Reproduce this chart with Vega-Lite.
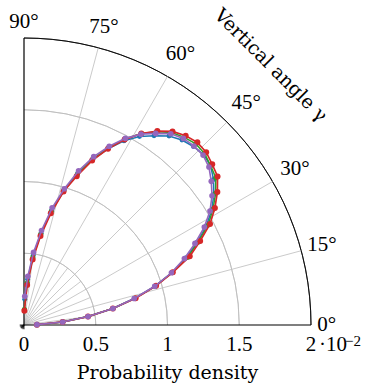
{
  "$schema": "https://vega.github.io/schema/vega-lite/v6.json",
  "width": 287,
  "height": 287,
  "autosize": "none",
  "padding": {"left": 24, "top": 38, "right": 62, "bottom": 62},
  "background": "white",
  "config": {"view": {"stroke": null}, "font": "DejaVu Serif", "axis": {"disable": true}},
  "datasets": {
    "curves": [
      {"s":"b","a":1.5,"d":0.09},{"s":"b","a":4.5,"d":0.27},{"s":"b","a":7.5,"d":0.45},{"s":"b","a":10.5,"d":0.63},{"s":"b","a":13.5,"d":0.79},{"s":"b","a":16.5,"d":0.95},{"s":"b","a":19.5,"d":1.095},{"s":"b","a":22.5,"d":1.22},{"s":"b","a":25.5,"d":1.335},{"s":"b","a":28.5,"d":1.445},{"s":"b","a":31.5,"d":1.535},{"s":"b","a":34.5,"d":1.605},{"s":"b","a":37.5,"d":1.665},{"s":"b","a":40.5,"d":1.71},{"s":"b","a":43.5,"d":1.725},{"s":"b","a":46.5,"d":1.715},{"s":"b","a":49.5,"d":1.695},{"s":"b","a":52.5,"d":1.66},{"s":"b","a":55.5,"d":1.6},{"s":"b","a":58.5,"d":1.54},{"s":"b","a":61.5,"d":1.46},{"s":"b","a":64.5,"d":1.36},{"s":"b","a":67.5,"d":1.25},{"s":"b","a":70.5,"d":1.12},{"s":"b","a":73.5,"d":0.97},{"s":"b","a":76.5,"d":0.82},{"s":"b","a":79.5,"d":0.65},{"s":"b","a":82.5,"d":0.49},{"s":"b","a":85.5,"d":0.32},{"s":"b","a":88.5,"d":0.18},
      {"s":"g","a":1.5,"d":0.09},{"s":"g","a":4.5,"d":0.27},{"s":"g","a":7.5,"d":0.45},{"s":"g","a":10.5,"d":0.63},{"s":"g","a":13.5,"d":0.795},{"s":"g","a":16.5,"d":0.955},{"s":"g","a":19.5,"d":1.095},{"s":"g","a":22.5,"d":1.235},{"s":"g","a":25.5,"d":1.345},{"s":"g","a":28.5,"d":1.46},{"s":"g","a":31.5,"d":1.545},{"s":"g","a":34.5,"d":1.62},{"s":"g","a":37.5,"d":1.685},{"s":"g","a":40.5,"d":1.71},{"s":"g","a":43.5,"d":1.735},{"s":"g","a":46.5,"d":1.74},{"s":"g","a":49.5,"d":1.72},{"s":"g","a":52.5,"d":1.69},{"s":"g","a":55.5,"d":1.635},{"s":"g","a":58.5,"d":1.565},{"s":"g","a":61.5,"d":1.475},{"s":"g","a":64.5,"d":1.37},{"s":"g","a":67.5,"d":1.25},{"s":"g","a":70.5,"d":1.115},{"s":"g","a":73.5,"d":0.98},{"s":"g","a":76.5,"d":0.815},{"s":"g","a":79.5,"d":0.645},{"s":"g","a":82.5,"d":0.475},{"s":"g","a":85.5,"d":0.295},{"s":"g","a":88.5,"d":0.11},
      {"s":"r","a":1.5,"d":0.09},{"s":"r","a":4.5,"d":0.27},{"s":"r","a":7.5,"d":0.45},{"s":"r","a":10.5,"d":0.63},{"s":"r","a":13.5,"d":0.8},{"s":"r","a":16.5,"d":0.96},{"s":"r","a":19.5,"d":1.1},{"s":"r","a":22.5,"d":1.25},{"s":"r","a":25.5,"d":1.36},{"s":"r","a":28.5,"d":1.475},{"s":"r","a":31.5,"d":1.56},{"s":"r","a":34.5,"d":1.635},{"s":"r","a":37.5,"d":1.7},{"s":"r","a":40.5,"d":1.725},{"s":"r","a":43.5,"d":1.75},{"s":"r","a":46.5,"d":1.755},{"s":"r","a":49.5,"d":1.735},{"s":"r","a":52.5,"d":1.7},{"s":"r","a":55.5,"d":1.64},{"s":"r","a":58.5,"d":1.565},{"s":"r","a":61.5,"d":1.47},{"s":"r","a":64.5,"d":1.36},{"s":"r","a":67.5,"d":1.24},{"s":"r","a":70.5,"d":1.1},{"s":"r","a":73.5,"d":0.97},{"s":"r","a":76.5,"d":0.8},{"s":"r","a":79.5,"d":0.63},{"s":"r","a":82.5,"d":0.46},{"s":"r","a":85.5,"d":0.28},{"s":"r","a":88.5,"d":0.1},
      {"s":"p","a":1.5,"d":0.09},{"s":"p","a":4.5,"d":0.27},{"s":"p","a":7.5,"d":0.45},{"s":"p","a":10.5,"d":0.63},{"s":"p","a":13.5,"d":0.79},{"s":"p","a":16.5,"d":0.95},{"s":"p","a":19.5,"d":1.09},{"s":"p","a":22.5,"d":1.21},{"s":"p","a":25.5,"d":1.32},{"s":"p","a":28.5,"d":1.43},{"s":"p","a":31.5,"d":1.52},{"s":"p","a":34.5,"d":1.59},{"s":"p","a":37.5,"d":1.645},{"s":"p","a":40.5,"d":1.695},{"s":"p","a":43.5,"d":1.72},{"s":"p","a":46.5,"d":1.72},{"s":"p","a":49.5,"d":1.71},{"s":"p","a":52.5,"d":1.68},{"s":"p","a":55.5,"d":1.62},{"s":"p","a":58.5,"d":1.56},{"s":"p","a":61.5,"d":1.48},{"s":"p","a":64.5,"d":1.38},{"s":"p","a":67.5,"d":1.27},{"s":"p","a":70.5,"d":1.14},{"s":"p","a":73.5,"d":0.99},{"s":"p","a":76.5,"d":0.84},{"s":"p","a":79.5,"d":0.67},{"s":"p","a":82.5,"d":0.51},{"s":"p","a":85.5,"d":0.34},{"s":"p","a":88.5,"d":0.2}
    ],
    "rings": [
      {"r":0.5,"kind":"grid"},{"r":1,"kind":"grid"},{"r":1.5,"kind":"grid"},{"r":2,"kind":"outer"}
    ],
    "spokes": [
      {"a":15,"r":2},{"a":30,"r":2},{"a":45,"r":2},{"a":60,"r":2},{"a":75,"r":2},
      {"a":7.5,"r":0.5},{"a":22.5,"r":0.5},{"a":37.5,"r":0.5},{"a":52.5,"r":0.5},{"a":67.5,"r":0.5},{"a":82.5,"r":0.5}
    ],
    "axisLines": [
      {"a":0,"r":2},{"a":90,"r":2}
    ],
    "fan": [
      {"a":0},{"a":15},{"a":30},{"a":45},{"a":60},{"a":75},{"a":90}
    ],
    "ticks": [
      {"v":0},{"v":0.5},{"v":1},{"v":1.5},{"v":2}
    ],
    "angleLabels": [
      {"a":0,"t":"0°"},{"a":15,"t":"15°"},{"a":30,"t":"30°"},{"a":45,"t":"45°"},{"a":60,"t":"60°"},{"a":75,"t":"75°"},{"a":90,"t":"90°"}
    ]
  },
  "layer": [
    {
      "data": {"name": "rings"},
      "transform": [
        {"calculate": "0", "as": "cx"},
        {"calculate": "0", "as": "cy"},
        {"calculate": "0", "as": "t0"},
        {"calculate": "90", "as": "t1"}
      ],
      "mark": {"type": "arc", "strokeWidth": 0.8, "fillOpacity": 0},
      "encoding": {
        "x": {"field": "cx", "type": "quantitative", "scale": {"domain": [0, 2], "nice": false, "zero": false}},
        "y": {"field": "cy", "type": "quantitative", "scale": {"domain": [0, 2], "nice": false, "zero": false}},
        "theta": {"field": "t0", "type": "quantitative", "stack": null, "scale": {"type": "linear", "domain": [0, 360], "range": [0, 6.283185307], "zero": true, "nice": false}},
        "theta2": {"field": "t1"},
        "radius": {"field": "r", "type": "quantitative", "scale": {"type": "linear", "domain": [0, 2], "range": [0, 287], "zero": true, "nice": false}},
        "radius2": {"field": "r"},
        "stroke": {"field": "kind", "type": "nominal", "scale": {"domain": ["grid", "outer"], "range": ["#bdbdbd", "#000000"]}, "legend": null}
      }
    },
    {
      "data": {"name": "spokes"},
      "transform": [
        {"calculate": "0", "as": "x1"},
        {"calculate": "0", "as": "y1"},
        {"calculate": "datum.r*cos(datum.a*PI/180)", "as": "x2"},
        {"calculate": "datum.r*sin(datum.a*PI/180)", "as": "y2"}
      ],
      "mark": {"type": "rule", "stroke": "#bdbdbd", "strokeWidth": 0.8},
      "encoding": {
        "x": {"field": "x1", "type": "quantitative", "scale": {"domain": [0, 2], "nice": false, "zero": false}},
        "y": {"field": "y1", "type": "quantitative", "scale": {"domain": [0, 2], "nice": false, "zero": false}},
        "x2": {"field": "x2"},
        "y2": {"field": "y2"}
      }
    },
    {
      "data": {"name": "axisLines"},
      "transform": [
        {"calculate": "0", "as": "x1"},
        {"calculate": "0", "as": "y1"},
        {"calculate": "datum.r*cos(datum.a*PI/180)", "as": "x2"},
        {"calculate": "datum.r*sin(datum.a*PI/180)", "as": "y2"}
      ],
      "mark": {"type": "rule", "stroke": "black", "strokeWidth": 1.2},
      "encoding": {
        "x": {"field": "x1", "type": "quantitative", "scale": {"domain": [0, 2], "nice": false, "zero": false}},
        "y": {"field": "y1", "type": "quantitative", "scale": {"domain": [0, 2], "nice": false, "zero": false}},
        "x2": {"field": "x2"},
        "y2": {"field": "y2"}
      }
    },
    {
      "data": {"name": "fan"},
      "transform": [
        {"calculate": "0", "as": "x1"},
        {"calculate": "0", "as": "y1"},
        {"calculate": "-0.03*cos(datum.a*PI/180)", "as": "x2"},
        {"calculate": "-0.03*sin(datum.a*PI/180)", "as": "y2"}
      ],
      "mark": {"type": "rule", "stroke": "black", "strokeWidth": 0.8},
      "encoding": {
        "x": {"field": "x1", "type": "quantitative", "scale": {"domain": [0, 2], "nice": false, "zero": false}},
        "y": {"field": "y1", "type": "quantitative", "scale": {"domain": [0, 2], "nice": false, "zero": false}},
        "x2": {"field": "x2"},
        "y2": {"field": "y2"}
      }
    },
    {
      "data": {"name": "curves"},
      "transform": [
        {"filter": "datum.s == 'b'"},
        {"calculate": "datum.d*cos(datum.a*PI/180)", "as": "x"},
        {"calculate": "datum.d*sin(datum.a*PI/180)", "as": "y"}
      ],
      "mark": {"type": "line", "color": "#1f77b4", "strokeWidth": 1.5, "point": {"filled": true, "size": 24, "color": "#1f77b4"}},
      "encoding": {
        "x": {"field": "x", "type": "quantitative", "scale": {"domain": [0, 2], "nice": false, "zero": false}},
        "y": {"field": "y", "type": "quantitative", "scale": {"domain": [0, 2], "nice": false, "zero": false}},
        "order": {"field": "a", "type": "quantitative"}
      }
    },
    {
      "data": {"name": "curves"},
      "transform": [
        {"filter": "datum.s == 'g'"},
        {"calculate": "datum.d*cos(datum.a*PI/180)", "as": "x"},
        {"calculate": "datum.d*sin(datum.a*PI/180)", "as": "y"}
      ],
      "mark": {"type": "line", "color": "#2ca02c", "strokeWidth": 1.5, "point": {"filled": true, "size": 26, "color": "#2ca02c"}},
      "encoding": {
        "x": {"field": "x", "type": "quantitative", "scale": {"domain": [0, 2], "nice": false, "zero": false}},
        "y": {"field": "y", "type": "quantitative", "scale": {"domain": [0, 2], "nice": false, "zero": false}},
        "order": {"field": "a", "type": "quantitative"}
      }
    },
    {
      "data": {"name": "curves"},
      "transform": [
        {"filter": "datum.s == 'r'"},
        {"calculate": "datum.d*cos(datum.a*PI/180)", "as": "x"},
        {"calculate": "datum.d*sin(datum.a*PI/180)", "as": "y"}
      ],
      "mark": {"type": "line", "color": "#d62728", "strokeWidth": 1.7, "point": {"filled": true, "size": 36, "color": "#d62728"}},
      "encoding": {
        "x": {"field": "x", "type": "quantitative", "scale": {"domain": [0, 2], "nice": false, "zero": false}},
        "y": {"field": "y", "type": "quantitative", "scale": {"domain": [0, 2], "nice": false, "zero": false}},
        "order": {"field": "a", "type": "quantitative"}
      }
    },
    {
      "data": {"name": "curves"},
      "transform": [
        {"filter": "datum.s == 'p'"},
        {"calculate": "datum.d*cos(datum.a*PI/180)", "as": "x"},
        {"calculate": "datum.d*sin(datum.a*PI/180)", "as": "y"}
      ],
      "mark": {"type": "line", "color": "#9467bd", "strokeWidth": 1.6, "point": {"filled": true, "size": 32, "color": "#9467bd"}},
      "encoding": {
        "x": {"field": "x", "type": "quantitative", "scale": {"domain": [0, 2], "nice": false, "zero": false}},
        "y": {"field": "y", "type": "quantitative", "scale": {"domain": [0, 2], "nice": false, "zero": false}},
        "order": {"field": "a", "type": "quantitative"}
      }
    },
    {
      "data": {"name": "ticks"},
      "transform": [{"calculate": "0", "as": "y0"}],
      "mark": {"type": "text", "font": "Liberation Serif", "fontSize": 21, "color": "black", "align": "center", "baseline": "alphabetic", "dy": 26},
      "encoding": {
        "x": {"field": "v", "type": "quantitative", "scale": {"domain": [0, 2], "nice": false, "zero": false}},
        "y": {"field": "y0", "type": "quantitative", "scale": {"domain": [0, 2], "nice": false, "zero": false}},
        "text": {"field": "v", "type": "quantitative", "format": "~g"}
      }
    },
    {
      "data": {"values": [{"t": "Probability density", "px": 1, "py": 0}]},
      "mark": {"type": "text", "font": "DejaVu Serif", "fontSize": 19, "color": "black", "align": "center", "baseline": "alphabetic", "dy": 54},
      "encoding": {
        "x": {"field": "px", "type": "quantitative", "scale": {"domain": [0, 2], "nice": false, "zero": false}},
        "y": {"field": "py", "type": "quantitative", "scale": {"domain": [0, 2], "nice": false, "zero": false}},
        "text": {"field": "t", "type": "nominal"}
      }
    },
    {
      "data": {"name": "angleLabels"},
      "transform": [
        {"calculate": "2.11 + 0.08*sin(2*datum.a*PI/180)", "as": "lr"},
        {"calculate": "datum.lr*cos(datum.a*PI/180)", "as": "lx"},
        {"calculate": "datum.lr*sin(datum.a*PI/180)", "as": "ly"}
      ],
      "mark": {"type": "text", "font": "Liberation Serif", "fontSize": 21, "color": "black", "align": "center", "baseline": "middle"},
      "encoding": {
        "x": {"field": "lx", "type": "quantitative", "scale": {"domain": [0, 2], "nice": false, "zero": false}},
        "y": {"field": "ly", "type": "quantitative", "scale": {"domain": [0, 2], "nice": false, "zero": false}},
        "text": {"field": "t", "type": "nominal"}
      }
    },
    {
      "data": {"values": [{"t": "·10", "px": 2, "py": 0}]},
      "mark": {"type": "text", "font": "Liberation Serif", "fontSize": 21, "color": "black", "align": "left", "baseline": "alphabetic", "dx": 8, "dy": 26},
      "encoding": {
        "x": {"field": "px", "type": "quantitative", "scale": {"domain": [0, 2], "nice": false, "zero": false}},
        "y": {"field": "py", "type": "quantitative", "scale": {"domain": [0, 2], "nice": false, "zero": false}},
        "text": {"field": "t", "type": "nominal"}
      }
    },
    {
      "data": {"values": [{"t": "−2", "px": 2, "py": 0}]},
      "mark": {"type": "text", "font": "Liberation Serif", "fontSize": 15, "color": "black", "align": "left", "baseline": "alphabetic", "dx": 34, "dy": 21},
      "encoding": {
        "x": {"field": "px", "type": "quantitative", "scale": {"domain": [0, 2], "nice": false, "zero": false}},
        "y": {"field": "py", "type": "quantitative", "scale": {"domain": [0, 2], "nice": false, "zero": false}},
        "text": {"field": "t", "type": "nominal"}
      }
    },
    {
      "data": {"values": [{"t": "Vertical angle γ", "px": 1.72, "py": 1.81}]},
      "mark": {"type": "text", "font": "DejaVu Serif", "fontSize": 19, "color": "black", "align": "center", "baseline": "middle", "angle": 45},
      "encoding": {
        "x": {"field": "px", "type": "quantitative", "scale": {"domain": [0, 2], "nice": false, "zero": false}},
        "y": {"field": "py", "type": "quantitative", "scale": {"domain": [0, 2], "nice": false, "zero": false}},
        "text": {"field": "t", "type": "nominal"}
      }
    }
  ]
}
